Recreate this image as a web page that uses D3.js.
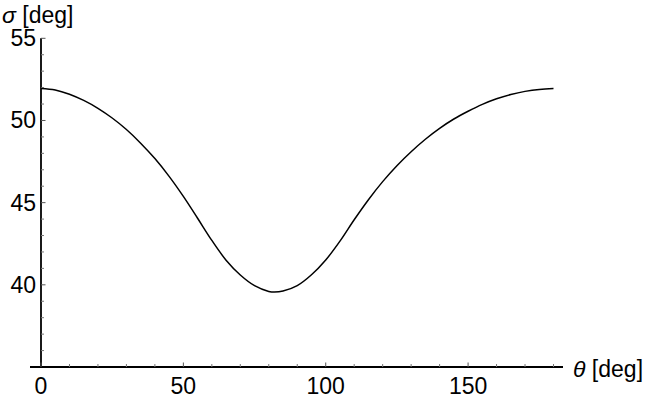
<!DOCTYPE html>
<html>
<head>
<meta charset="utf-8">
<script src="https://cdn.jsdelivr.net/npm/d3@7"></script>
<style>
html,body{margin:0;padding:0;background:#fff;}
svg{display:block;}
text{font-family:"Liberation Sans",Arial,sans-serif;fill:#000;}
</style>
</head>
<body>
<svg id="chart" width="652" height="404"></svg>
<script>
const theta = [0,5,10,15,20,25,30,35,40,45,50,55,60,65,70,75,80,82,85,90,95,100,105,110,115,120,125,130,135,140,145,150,155,160,165,170,175,180];
const sigma = [51.95,51.86,51.6,51.22,50.74,50.15,49.45,48.62,47.68,46.6,45.38,44.05,42.7,41.5,40.6,39.95,39.6,39.56,39.62,39.95,40.61,41.51,42.66,43.96,45.18,46.28,47.25,48.1,48.86,49.52,50.09,50.56,50.98,51.32,51.58,51.77,51.89,51.94];
const xMajor = [0,50,100,150];
const xMinor = [10,20,30,40,60,70,80,90,110,120,130,140,160,170,180];
const yMajor = [40,45,50,55];
const yMinor = [36,37,38,39,41,42,43,44,46,47,48,49,51,52,53,54];
const xLabel = "[deg]";
const yLabel = "[deg]";

const svg = d3.select("#chart");
const x = d3.scaleLinear().domain([0,180]).range([41,553.5]);
const y = d3.scaleLinear().domain([35,55]).range([367,38.3]);
const x0 = x.invert(30), x1 = x.invert(563);

// axes lines
svg.append("line").attr("x1",x(x0)).attr("x2",x(x1)).attr("y1",y(35)).attr("y2",y(35))
  .attr("stroke","#000").attr("stroke-width",1.8);
svg.append("line").attr("x1",x(0)).attr("x2",x(0)).attr("y1",y(35)+0.9).attr("y2",y(55))
  .attr("stroke","#000").attr("stroke-width",1.8);

// x ticks
svg.selectAll(".xmaj").data(xMajor).join("line")
  .attr("x1",d=>x(d)).attr("x2",d=>x(d)).attr("y1",y(35)).attr("y2",y(35)-4.5)
  .attr("stroke","#555").attr("stroke-width",1);
svg.selectAll(".xmin").data(xMinor).join("line")
  .attr("x1",d=>x(d)).attr("x2",d=>x(d)).attr("y1",y(35)).attr("y2",y(35)-3)
  .attr("stroke","#777").attr("stroke-width",1);
svg.selectAll(".xlab").data(xMajor).join("text")
  .attr("x",d=>x(d)).attr("y",394).attr("text-anchor","middle")
  .attr("font-size",23).text(d=>d);

// y ticks
svg.selectAll(".ymaj").data(yMajor).join("line")
  .attr("x1",x(0)).attr("x2",x(0)+4.5).attr("y1",d=>y(d)).attr("y2",d=>y(d))
  .attr("stroke","#555").attr("stroke-width",1);
svg.selectAll(".ymin").data(yMinor).join("line")
  .attr("x1",x(0)).attr("x2",x(0)+3).attr("y1",d=>y(d)).attr("y2",d=>y(d))
  .attr("stroke","#777").attr("stroke-width",1);
svg.selectAll(".ylab").data(yMajor).join("text")
  .attr("x",36).attr("y",d=>y(d)+8).attr("text-anchor","end")
  .attr("font-size",23).text(d=>d);

// axis labels
const yl = svg.append("text").attr("x",2).attr("y",23).attr("font-size",23);
yl.append("tspan").attr("font-style","italic").text("σ");
yl.append("tspan").text(" " + yLabel);
const xl = svg.append("text").attr("x",573).attr("y",377).attr("font-size",23);
xl.append("tspan").attr("font-style","italic").text("θ");
xl.append("tspan").text(" " + xLabel);

// curve
const data = theta.map((t,i)=>({t, s:sigma[i]}));
svg.append("path").datum(data)
  .attr("fill","none").attr("stroke","#000").attr("stroke-width",1.5)
  .attr("d", d3.line().x(d=>x(d.t)).y(d=>y(d.s)).curve(d3.curveCatmullRom.alpha(0.5)));
</script>
</body>
</html>
